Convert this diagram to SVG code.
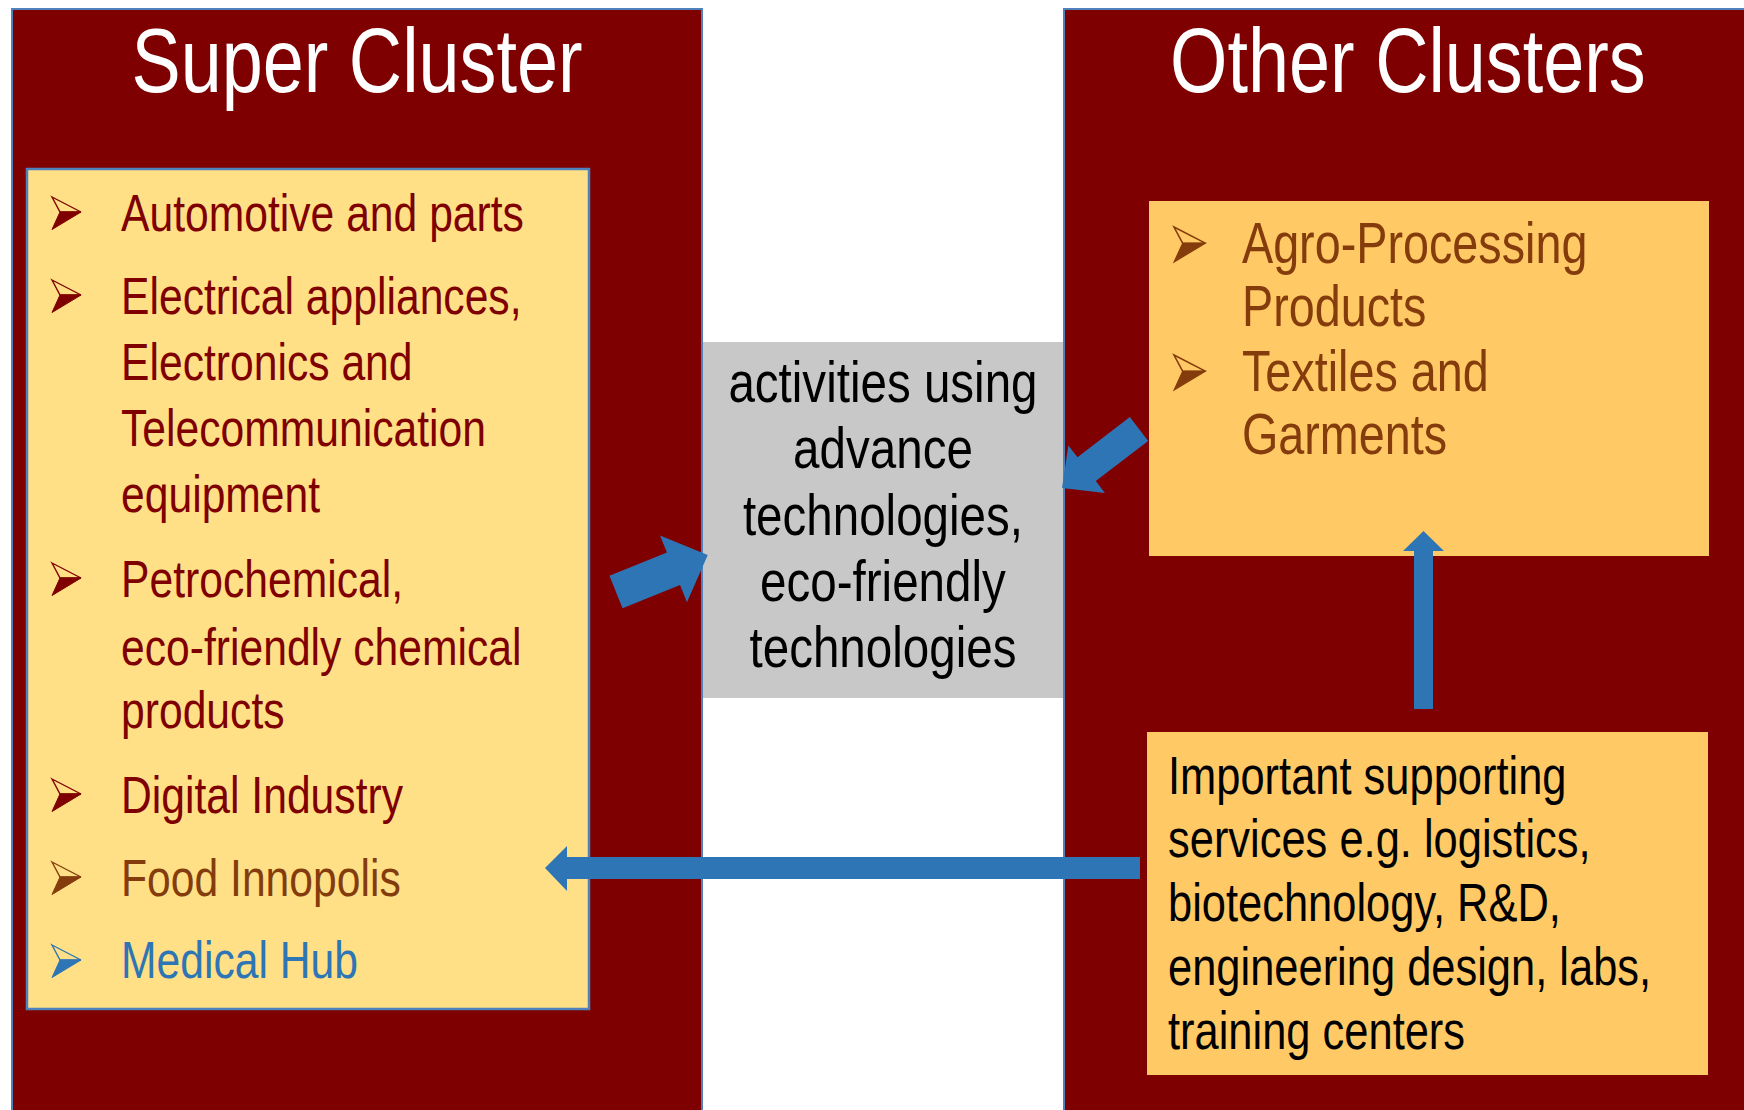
<svg xmlns="http://www.w3.org/2000/svg" xmlns:xlink="http://www.w3.org/1999/xlink" width="1744" height="1110" viewBox="0 0 1744 1110">
<defs>
<style>
text{font-family:'Liberation Sans',Arial,sans-serif;}
.panel{fill:#7F0000;stroke:#4F81BD;stroke-width:2;}
.title{fill:#FFFFFF;font-size:90px;text-anchor:middle;}
.item{font-size:52px;}
.red{fill:#7F0000;color:#7F0000;}
.brown{fill:#843C0C;color:#843C0C;}
.blue{fill:#2E75B6;color:#2E75B6;}
.grey-t{fill:#000000;font-size:58px;text-anchor:middle;}
.sup-t{fill:#000000;font-size:53px;}
.arrow{fill:#2E75B6;}
</style>
<g id="bul">
<path d="M0,0 L29,15 L8,15 Z" fill="none" stroke="currentColor" stroke-width="1.4" stroke-linejoin="miter"/>
<path d="M8,15 L29,15 L0,32.5 Z" fill="currentColor" stroke="currentColor" stroke-width="1"/>
</g>
</defs>

<g id="super-cluster">
<rect class="panel" x="12" y="9" width="690" height="1120"/>
<g transform="scale(0.82,1)"><text class="title" x="435.4" y="92">Super Cluster</text></g>
</g>

<g id="other-clusters">
<rect class="panel" x="1064" y="9" width="700" height="1120"/>
<g transform="scale(0.82,1)"><text class="title" x="1717" y="92">Other Clusters</text></g>
</g>

<g id="super-list">
<rect x="27" y="169" width="562" height="840" fill="#FFE086" stroke="#4F81BD" stroke-width="2.5"/>
<use xlink:href="#bul" class="red" x="52" y="197"/>
<use xlink:href="#bul" class="red" x="52" y="280"/>
<use xlink:href="#bul" class="red" x="52" y="563"/>
<use xlink:href="#bul" class="red" x="52" y="779"/>
<use xlink:href="#bul" class="brown" x="52" y="862"/>
<use xlink:href="#bul" class="blue" x="52" y="945"/>
<g class="item" transform="scale(0.82,1)">
<text class="red" x="147.6" y="231">Automotive and parts</text>
<text class="red" x="147.6" y="314">Electrical appliances,</text>
<text class="red" x="147.6" y="380">Electronics and</text>
<text class="red" x="147.6" y="446">Telecommunication</text>
<text class="red" x="147.6" y="512">equipment</text>
<text class="red" x="147.6" y="597">Petrochemical,</text>
<text class="red" x="147.6" y="665">eco-friendly chemical</text>
<text class="red" x="147.6" y="728">products</text>
<text class="red" x="147.6" y="813">Digital Industry</text>
<text class="brown" x="147.6" y="896">Food Innopolis</text>
<text class="blue" x="147.6" y="978">Medical Hub</text>
</g>
</g>

<g id="advanced-activities">
<rect x="703" y="342" width="360" height="356" fill="#C8C8C8"/>
<g transform="scale(0.82,1)">
<text class="grey-t" x="1076.8" y="402">activities using</text>
<text class="grey-t" x="1076.8" y="468">advance</text>
<text class="grey-t" x="1076.8" y="535">technologies,</text>
<text class="grey-t" x="1076.8" y="601">eco-friendly</text>
<text class="grey-t" x="1076.8" y="667">technologies</text>
</g>
</g>

<g id="other-list">
<rect x="1149" y="201" width="560" height="355" fill="#FFC965"/>
<use xlink:href="#bul" class="brown" transform="translate(1174,227) scale(1.08)"/>
<use xlink:href="#bul" class="brown" transform="translate(1174,355) scale(1.08)"/>
<g class="item" style="font-size:57px" transform="scale(0.82,1)">
<text class="brown" x="1514.6" y="263">Agro-Processing</text>
<text class="brown" x="1514.6" y="326">Products</text>
<text class="brown" x="1514.6" y="391">Textiles and</text>
<text class="brown" x="1514.6" y="454">Garments</text>
</g>
</g>

<g id="supporting-services">
<rect x="1147" y="732" width="561" height="343" fill="#FFC965"/>
<g transform="scale(0.82,1)">
<text class="sup-t" x="1424.4" y="794">Important supporting</text>
<text class="sup-t" x="1424.4" y="857">services e.g. logistics,</text>
<text class="sup-t" x="1424.4" y="921">biotechnology, R&amp;D,</text>
<text class="sup-t" x="1424.4" y="985">engineering design, labs,</text>
<text class="sup-t" x="1424.4" y="1049">training centers</text>
</g>
</g>

<g id="connectors">
<path class="arrow" transform="translate(616,592) rotate(-22)" d="M0,-17.5 L62,-17.5 L62,-36 L99,0 L62,36 L62,17.5 L0,17.5 Z"/>
<path class="arrow" transform="translate(1139,429) rotate(142.5)" d="M0,-15 L66,-15 L66,-30 L97,0 L66,30 L66,15 L0,15 Z"/>
<path class="arrow" d="M1414,709 L1414,551 L1403,551 L1423.5,531 L1444,551 L1433,551 L1433,709 Z"/>
<path class="arrow" d="M1140,857 L567,857 L567,846 L545,868 L567,891 L567,879 L1140,879 Z"/>
</g>
</svg>
